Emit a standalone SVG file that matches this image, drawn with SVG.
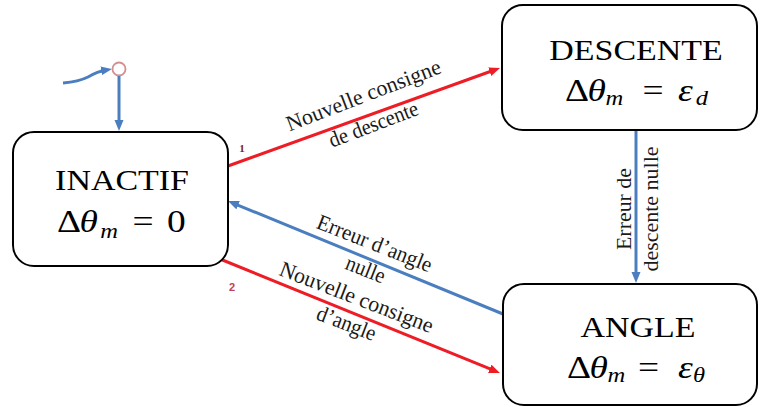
<svg xmlns="http://www.w3.org/2000/svg" width="760" height="407" viewBox="0 0 760 407">
<style>
.box{fill:#fff;stroke:#000;stroke-width:2}
.t{font-family:"Liberation Serif","Times New Roman",Times,serif;fill:#000}
.title{font-size:29px;text-anchor:middle}
.m{font-size:32px}
.mi{font-size:32px;font-style:italic}
.sub{font-size:21px;font-style:italic}
.lbl{font-family:"Liberation Serif","Times New Roman",Times,serif;font-size:22px;fill:#1a1a1a;text-anchor:middle}
.red{stroke:#ee1c25;stroke-width:3;fill:none}
.blue{stroke:#4a7ebf;stroke-width:3;fill:none}
</style>
<defs>
<marker id="ar" markerUnits="userSpaceOnUse" markerWidth="12" markerHeight="10" refX="5" refY="4.5" orient="auto"><path d="M0,0 L11,4.5 L0,9 z" fill="#ee1c25"/></marker>
<marker id="ab" markerUnits="userSpaceOnUse" markerWidth="12" markerHeight="10" refX="5" refY="4.5" orient="auto"><path d="M0,0 L11,4.5 L0,9 z" fill="#4a7ebf"/></marker>
</defs>

<g id="connectors">
  <path class="blue" d="M63,83 C75,82 82,80 88,77 C95,73 100,71 106,70" stroke-width="3.5" marker-end="url(#ab)"/>
  <circle cx="119" cy="69" r="6.5" fill="#fff" stroke="#d49090" stroke-width="1.8"/>
  <line class="blue" x1="119" y1="76" x2="119" y2="125" marker-end="url(#ab)"/>
  <line class="red" x1="228" y1="166" x2="494.4" y2="70" marker-end="url(#ar)"/>
  <line class="red" x1="220" y1="259" x2="494.4" y2="370.7" marker-end="url(#ar)"/>
  <line class="blue" x1="503" y1="314" x2="233.5" y2="203.3" marker-end="url(#ab)"/>
  <line class="blue" x1="636" y1="130" x2="636" y2="277" marker-end="url(#ab)"/>
  <text x="242" y="152" font-family="Liberation Serif,serif" font-size="11" font-weight="bold" fill="#7b1c1c" text-anchor="middle">1</text>
  <text x="232" y="291" font-family="Liberation Sans,Arial,sans-serif" font-size="11" font-weight="bold" fill="#c0405a" text-anchor="middle">2</text>
  <text class="lbl" transform="translate(366,102) rotate(-21)" textLength="164" lengthAdjust="spacingAndGlyphs">Nouvelle consigne</text>
  <text class="lbl" transform="translate(376,131) rotate(-21)" textLength="94" lengthAdjust="spacingAndGlyphs">de descente</text>
  <text class="lbl" transform="translate(372,250) rotate(21.5)" textLength="122" lengthAdjust="spacingAndGlyphs">Erreur d’angle</text>
  <text class="lbl" transform="translate(363,276) rotate(21.5)" textLength="41" lengthAdjust="spacingAndGlyphs">nulle</text>
  <text class="lbl" transform="translate(354,304) rotate(21)" textLength="163" lengthAdjust="spacingAndGlyphs">Nouvelle consigne</text>
  <text class="lbl" transform="translate(344,330) rotate(21)" textLength="62" lengthAdjust="spacingAndGlyphs">d’angle</text>
  <text class="lbl" transform="translate(631,209) rotate(-90)" textLength="82" lengthAdjust="spacingAndGlyphs">Erreur de</text>
  <text class="lbl" transform="translate(658,209) rotate(-90)" textLength="125" lengthAdjust="spacingAndGlyphs">descente nulle</text>
</g>

<g id="inactif">
  <rect class="box" x="13" y="132" width="215" height="134" rx="21"/>
  <g transform="matrix(1.17 0 0 1 -20.74 0)">
    <text class="t title" x="122" y="190">INACTIF</text>
    <text class="t m" x="66.4" y="232">Δ</text>
    <text class="t mi" x="85.6" y="232">θ</text>
    <text class="t sub" x="103.5" y="238">m</text>
    <text class="t m" x="131" y="232">=</text>
    <text class="t m" x="160.5" y="232">0</text>
  </g>
</g>

<g id="descente">
  <rect class="box" x="502" y="5" width="255" height="125" rx="21"/>
  <g transform="matrix(1.17 0 0 1 -108.12 0)">
    <text class="t title" x="636" y="60">DESCENTE</text>
    <text class="t m" x="575.3" y="101">Δ</text>
    <text class="t mi" x="594.5" y="101">θ</text>
    <text class="t sub" x="610" y="105">m</text>
    <text class="t m" x="641.5" y="101">=</text>
    <text class="t mi" x="671.9" y="101">ε</text>
    <text class="t sub" x="687" y="105">d</text>
  </g>
</g>

<g id="angle">
  <rect class="box" x="503" y="284" width="254" height="121" rx="21"/>
  <g transform="matrix(1.17 0 0 1 -108.46 0)">
    <text class="t title" x="638" y="337">ANGLE</text>
    <text class="t m" x="577.3" y="378">Δ</text>
    <text class="t mi" x="596.5" y="378">θ</text>
    <text class="t sub" x="612" y="382">m</text>
    <text class="t m" x="638" y="378">=</text>
    <text class="t mi" x="672.2" y="378">ε</text>
    <text class="t sub" x="685" y="382">θ</text>
  </g>
</g>
</svg>
